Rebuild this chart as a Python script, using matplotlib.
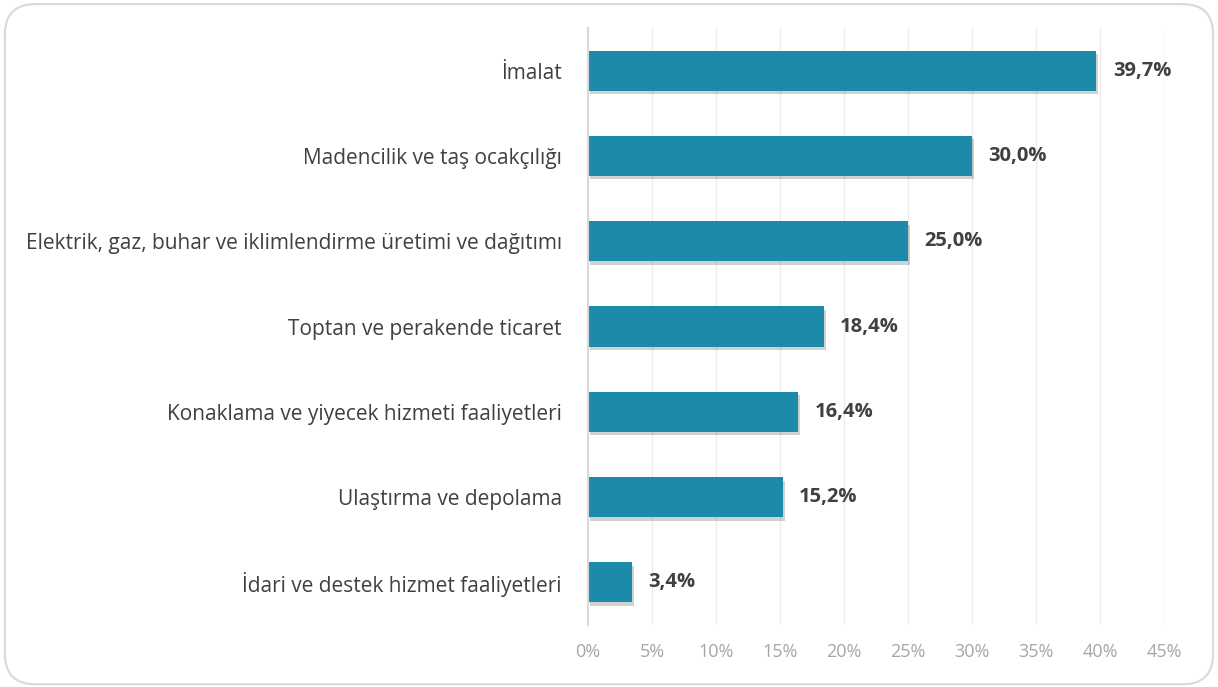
import matplotlib.pyplot as plt
import matplotlib.patheffects as pe
from matplotlib.patches import FancyBboxPatch
from matplotlib.ticker import FuncFormatter

categories = [
    "İmalat",
    "Madencilik ve taş ocakçılığı",
    "Elektrik, gaz, buhar ve iklimlendirme üretimi ve dağıtımı",
    "Toptan ve perakende ticaret",
    "Konaklama ve yiyecek hizmeti faaliyetleri",
    "Ulaştırma ve depolama",
    "İdari ve destek hizmet faaliyetleri",
]
values = [39.7, 30.0, 25.0, 18.4, 16.4, 15.2, 3.4]
xticks = [0, 5, 10, 15, 20, 25, 30, 35, 40, 45]

plt.rcParams['font.family'] = ['Open Sans', 'DejaVu Sans']

fig = plt.figure(figsize=(12.18, 6.87), dpi=100)
border = FancyBboxPatch((0.004, 0.004), 0.992, 0.99,
                        boxstyle="round,pad=0,rounding_size=0.025",
                        transform=fig.transFigure, facecolor='white',
                        edgecolor='#d9d9d9', linewidth=1.5,
                        mutation_aspect=1218 / 687, zorder=-10)
fig.patches.append(border)

ax = fig.add_axes([0.4828, 0.0902, 0.4729, 0.869])
ax.set_facecolor('none')

ypos = list(range(len(categories)))
bars = ax.barh(ypos, values, height=0.47, color='#1c8aab', zorder=3)
for b in bars:
    b.set_path_effects([pe.SimplePatchShadow(offset=(1.5, -2.5), shadow_rgbFace='#000000', alpha=0.18),
                        pe.Normal()])

for y, v in zip(ypos, values):
    ax.text(v + 1.3, y, f"{v:.1f}%".replace('.', ','), va='center', ha='left',
            fontsize=14.5, fontweight='bold', color='#404040')

ax.set_ylim(len(categories) - 0.5, -0.5)
ax.set_xlim(0, 45)
ax.set_xticks(xticks)
ax.xaxis.set_major_formatter(FuncFormatter(lambda x, p: f"{x:.0f}%"))
ax.set_yticks(ypos)
ax.set_yticklabels(categories, fontsize=15, color='#404040')
ax.tick_params(axis='x', length=0, labelsize=13, labelcolor='#a6a6a6', pad=13)
ax.tick_params(axis='y', length=0, pad=19)

ax.grid(axis='x', color='#ebebeb', linewidth=1, zorder=0)
for s in ['top', 'right', 'bottom']:
    ax.spines[s].set_visible(False)
ax.spines['left'].set_color('#d9d9d9')
ax.spines['left'].set_linewidth(1.5)
ax.spines['left'].set_zorder(4)

fig.savefig('out.png', dpi=100)
